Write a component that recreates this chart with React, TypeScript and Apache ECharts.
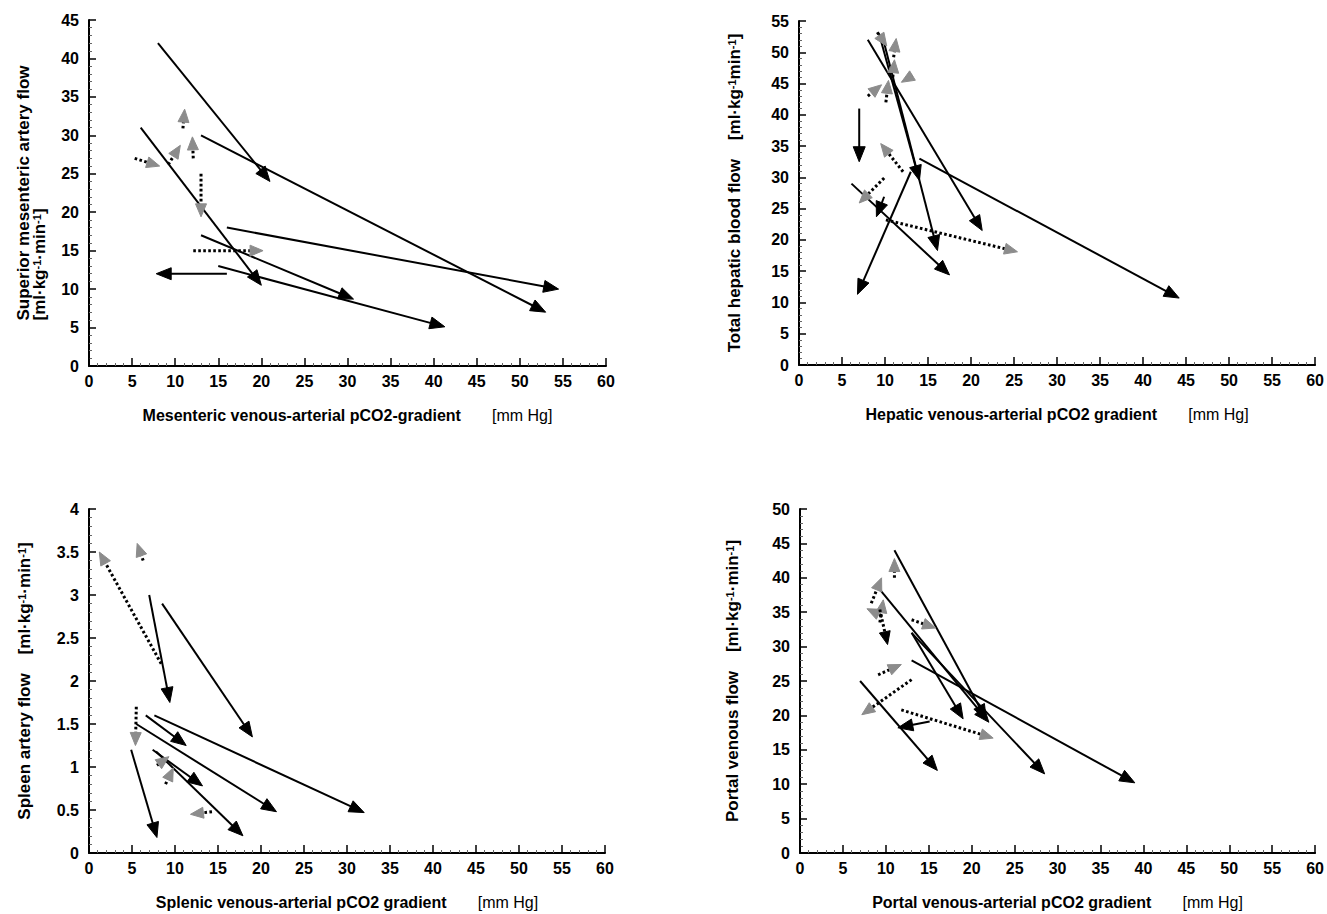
import React, { useEffect, useRef } from "react";
import * as echarts from "echarts";

type Arrow = [number, number, number, number]; // x1, y1, x2, y2

// ---- axis scales ----
const xAxisMax = 60;
const xAxisStep = 5;
const mesentericYMax = 45;
const hepaticYMax = 55;
const splenicYMax = 4;
const splenicYStep = 0.5;
const portalYMax = 50;
const flowYStep = 5;

// ---- Panel 1: mesenteric ----
const mesentericSolid: Arrow[] = [
  [8, 42, 21, 24],
  [6, 31, 20, 10.5],
  [13, 30, 53, 7],
  [16, 18, 54.5, 10],
  [13, 17, 30.7, 8.7],
  [15, 13, 41.3, 5.1],
  [16, 12, 7.8, 12],
];
const mesentericDotted: Arrow[] = [
  [5.3, 27, 8.2, 26],
  [9.2, 26.2, 10.6, 28.7],
  [10.9, 30.9, 11.1, 33.4],
  [12.1, 27, 12, 29.8],
  [13, 25, 13, 19.4],
  [12.1, 15, 20.2, 15],
];

// ---- Panel 2: hepatic ----
const hepaticSolid: Arrow[] = [
  [8, 52, 21.3, 21.5],
  [9.3, 53, 14, 29.5],
  [9.8, 52, 16.1, 18.3],
  [7, 41, 7, 32.5],
  [14, 33, 44.2, 10.7],
  [6.1, 29, 17.5, 14.4],
  [13, 30.9, 6.8, 11.3],
  [9.9, 26.9, 9, 23.7],
];
const hepaticDotted: Arrow[] = [
  [12.1, 30.9, 9.5, 35.4],
  [9.9, 29.9, 7, 25.9],
  [10.1, 23.2, 25.4, 18.1],
  [8, 43, 9.6, 44.8],
  [13.1, 46.2, 11.9, 45.2],
  [10.1, 42, 10.4, 45.5],
  [10.9, 46, 11.1, 48.8],
  [11, 49.2, 11.3, 52.2],
  [9.1, 53.2, 10.2, 51],
];

// ---- Panel 3: splenic ----
const splenicSolid: Arrow[] = [
  [7, 3, 9.4, 1.75],
  [8.5, 2.9, 19, 1.35],
  [6.6, 1.6, 11.3, 1.25],
  [7.6, 1.6, 32, 0.47],
  [5.5, 1.5, 21.8, 0.48],
  [7.4, 1.2, 13.2, 0.78],
  [7.8, 1.18, 17.9, 0.2],
  [4.9, 1.2, 7.9, 0.18],
];
const splenicDotted: Arrow[] = [
  [8.4, 2.2, 1.2, 3.5],
  [6.3, 3.4, 5.6, 3.6],
  [5.5, 1.7, 5.4, 1.25],
  [7.9, 1.02, 9.3, 1.12],
  [8.9, 0.8, 9.8, 0.99],
  [14.3, 0.48, 11.8, 0.45],
];

// ---- Panel 4: portal ----
const portalSolid: Arrow[] = [
  [11, 44, 21.7, 19.4],
  [8.9, 38.9, 22, 19],
  [13, 32, 19, 19.5],
  [13, 32, 28.5, 11.5],
  [13, 28, 39, 10.2],
  [7, 25, 16, 12],
  [15.1, 19.1, 11.4, 18.2],
];
const portalDotted: Arrow[] = [
  [8.3, 36.3, 9.5, 40],
  [11, 40, 11, 42.8],
  [9.5, 34.5, 7.8, 35.5],
  [9.3, 33.5, 9.7, 36.8],
  [13, 33.9, 15.8, 32.7],
  [9.1, 25.9, 11.8, 27.4],
  [13, 25.2, 7.2, 20.1],
  [11.8, 20.8, 22.5, 16.7],
];
const portalDottedBlackHead: Arrow[] = [[9.3, 35.4, 10.2, 30.3]];

// ---- style constants ----
const FONT = "'Liberation Sans', Arial, Helvetica, sans-serif";
const GREY = "#8c8c8c";

type Kind = "solid" | "dotted" | "dottedBlack";

function arrowSeries(data: Arrow[], kind: Kind, idx: number) {
  return {
    type: "custom",
    xAxisIndex: idx,
    yAxisIndex: idx,
    dimensions: ["x1", "y1", "x2", "y2"],
    encode: { x: [0, 2], y: [1, 3] },
    data,
    clip: false,
    silent: true,
    renderItem: (_params: any, api: any) => {
      const a = api.coord([api.value(0), api.value(1)]);
      const b = api.coord([api.value(2), api.value(3)]);
      const dx = b[0] - a[0];
      const dy = b[1] - a[1];
      const len = Math.hypot(dx, dy) || 1;
      const ux = dx / len;
      const uy = dy / len;
      const headLen = kind === "solid" ? 15 : 13;
      const headHalf = kind === "solid" ? 6 : 5.5;
      const bx = b[0] - ux * headLen;
      const by = b[1] - uy * headLen;
      const endBack = kind === "solid" ? headLen * 0.5 : headLen;
      const ex = b[0] - ux * endBack;
      const ey = b[1] - uy * endBack;
      const headColor = kind === "dotted" ? GREY : "#000";
      const dotted = kind !== "solid";
      return {
        type: "group",
        children: [
          {
            type: "line",
            shape: { x1: a[0], y1: a[1], x2: ex, y2: ey },
            style: {
              stroke: "#000",
              fill: null,
              lineWidth: dotted ? 3 : 2,
              lineDash: dotted ? [2.6, 2.4] : null,
              lineCap: "butt",
            },
          },
          {
            type: "polygon",
            shape: {
              points: [
                [b[0], b[1]],
                [bx - uy * headHalf, by + ux * headHalf],
                [bx + uy * headHalf, by - ux * headHalf],
              ],
            },
            style: { fill: headColor, stroke: headColor, lineWidth: 1 },
          },
        ],
      };
    },
  };
}

const boldText = { fontFamily: FONT, fontWeight: 700, color: "#000" };

function xAxis(idx: number, title: string) {
  return {
    type: "value",
    gridIndex: idx,
    min: 0,
    max: xAxisMax,
    interval: xAxisStep,
    axisLine: { show: true, onZero: false, lineStyle: { color: "#000", width: 2 } },
    axisTick: { show: true, inside: true, length: 8, lineStyle: { color: "#000", width: 1.5 } },
    minorTick: { show: true, splitNumber: 5, length: 3, lineStyle: { color: "#666", width: 1 } },
    splitLine: { show: false },
    axisLabel: { ...boldText, fontSize: 16, margin: 7 },
    name: `{b|${title}}{r|       [mm Hg]}`,
    nameLocation: "middle",
    nameGap: 40,
    nameTextStyle: {
      rich: {
        b: { ...boldText, fontSize: 16, lineHeight: 18 },
        r: { fontFamily: FONT, fontWeight: "normal", color: "#000", fontSize: 16, lineHeight: 18 },
      },
    },
  };
}

function yAxis(idx: number, max: number, step: number, name: string, gap: number) {
  return {
    type: "value",
    gridIndex: idx,
    min: 0,
    max,
    interval: step,
    axisLine: { show: true, onZero: false, lineStyle: { color: "#000", width: 2 } },
    axisTick: { show: true, inside: true, length: 7, lineStyle: { color: "#000", width: 1.5 } },
    minorTick: { show: true, splitNumber: 5, length: 3, lineStyle: { color: "#666", width: 1 } },
    splitLine: { show: false },
    axisLabel: { ...boldText, fontSize: 16, margin: 10 },
    name,
    nameLocation: "middle",
    nameGap: gap,
    nameTextStyle: {
      rich: {
        b: { ...boldText, fontSize: 17, lineHeight: 16 },
        l: { ...boldText, fontSize: 17, lineHeight: 16, align: "left" },
        s: { ...boldText, fontSize: 11, lineHeight: 16, verticalAlign: "top" },
        sl: { ...boldText, fontSize: 11, lineHeight: 16, verticalAlign: "top", align: "left" },
      },
    },
  };
}

const yName1 =
  "{b|Superior mesenteric artery flow}\n{l|[ml·kg}{sl|-1}{l|·min}{sl|-1}{l|]}";
const yName2 = "{b|Total hepatic blood flow    [ml·kg}{s|-1}{b|min}{s|-1}{b|]}";
const yName3 = "{b|Spleen artery flow    [ml·kg}{s|-1}{b|·min}{s|-1}{b|]}";
const yName4 = "{b|Portal venous flow    [ml·kg}{s|-1}{b|·min}{s|-1}{b|]}";

export default function App() {
  const ref = useRef<HTMLDivElement>(null);

  useEffect(() => {
    if (!ref.current) return;
    const chart = echarts.init(ref.current, undefined, { renderer: "svg" });
    chart.setOption({
      animation: false,
      backgroundColor: "#fff",
      grid: [
        { left: 89, top: 20, width: 517, height: 346 },
        { left: 799, top: 21, width: 518, height: 344 },
        { left: 89, top: 509, width: 516, height: 344 },
        { left: 800, top: 509, width: 517, height: 344 },
      ],
      xAxis: [
        xAxis(0, "Mesenteric venous-arterial pCO2-gradient"),
        xAxis(1, "Hepatic venous-arterial pCO2 gradient"),
        xAxis(2, "Splenic venous-arterial pCO2 gradient"),
        xAxis(3, "Portal venous-arterial pCO2 gradient"),
      ],
      yAxis: [
        yAxis(0, mesentericYMax, flowYStep, yName1, 42),
        yAxis(1, hepaticYMax, flowYStep, yName2, 57),
        yAxis(2, splenicYMax, splenicYStep, yName3, 57),
        yAxis(3, portalYMax, flowYStep, yName4, 60),
      ],
      series: [
        arrowSeries(mesentericSolid, "solid", 0),
        arrowSeries(mesentericDotted, "dotted", 0),
        arrowSeries(hepaticSolid, "solid", 1),
        arrowSeries(hepaticDotted, "dotted", 1),
        arrowSeries(splenicSolid, "solid", 2),
        arrowSeries(splenicDotted, "dotted", 2),
        arrowSeries(portalSolid, "solid", 3),
        arrowSeries(portalDotted, "dotted", 3),
        arrowSeries(portalDottedBlackHead, "dottedBlack", 3),
      ],
    });
    return () => chart.dispose();
  }, []);

  return (
    <div
      ref={ref}
      style={{ position: "absolute", left: 0, top: 0, width: 1327, height: 914, background: "#fff" }}
    />
  );
}
